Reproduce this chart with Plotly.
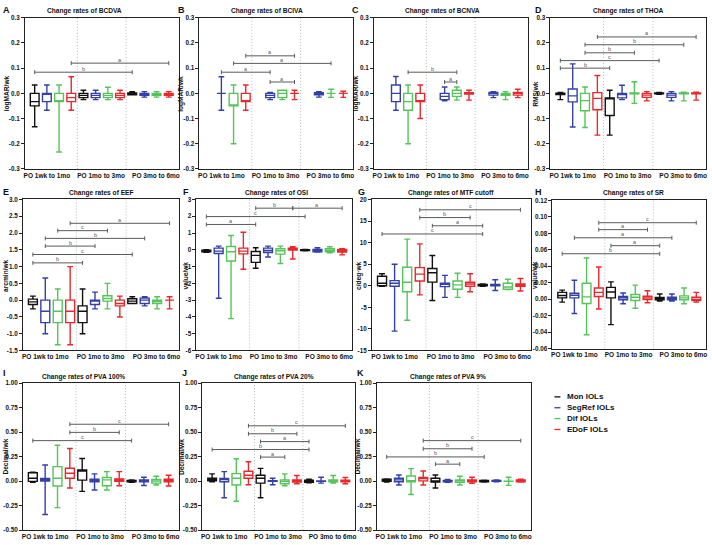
import plotly.graph_objects as go

W, H = 712, 545
FONT = "Liberation Sans, Arial, sans-serif"
FONT_W = "Liberation Sans, Arial, sans-serif"

group_labels = ["PO 1wk to 1mo", "PO 1mo to 3mo", "PO 3mo to 6mo"]
series_names = ["Mon IOLs", "SegRef IOLs", "Dif IOLs", "EDoF IOLs"]
series_colors = ["#111111", "#3440a8", "#55c45a", "#e8282d"]

# each series: per group (upper whisker, q3, median, q1, lower whisker)
BCDVA_Mon = [(0.033, 0.0, -0.033, -0.05, -0.133), (0.012, 0.0, -0.008, -0.017, -0.025), (0.007, 0.002, -0.002, -0.006, -0.006)]
BCDVA_SegRef = [(0.033, 0.0, 0.0, -0.033, -0.067), (0.012, 0.0, -0.008, -0.017, -0.025), (0.007, 0.0, -0.004, -0.008, -0.015)]
BCDVA_Dif = [(0.033, 0.0, -0.033, -0.033, -0.233), (0.024, 0.0, -0.008, -0.017, -0.025), (0.007, 0.0, -0.004, -0.008, -0.015)]
BCDVA_EDoF = [(0.066, 0.0, -0.017, -0.033, -0.067), (0.012, 0.0, -0.008, -0.017, -0.025), (0.007, 0.0, -0.004, -0.008, -0.015)]
BCDVA_sig = [(3, 11, 0.12, "a"), (0, 8, 0.084, "b")]

BCIVA_Mon = None
BCIVA_SegRef = [(0.066, 0.0, 0.0, 0.0, -0.067), (0.004, 0.0, -0.008, -0.017, -0.025), (0.007, 0.003, -0.003, -0.006, -0.015)]
BCIVA_Dif = [(0.033, 0.0, -0.05, -0.05, -0.2), (0.012, 0.012, 0.0, -0.017, -0.025), (0.016, 0.0, 0.0, 0.0, -0.016)]
BCIVA_EDoF = [(0.033, 0.0, -0.033, -0.033, -0.067), (0.012, 0.0, 0.0, 0.0, -0.025), (0.008, 0.0, 0.0, 0.0, -0.016)]
BCIVA_sig = [(3, 7, 0.149, "a"), (2, 10, 0.119, "a"), (1, 5, 0.084, "a"), (5, 7, 0.045, "a")]

BCNVA_Mon = None
BCNVA_SegRef = [(0.067, 0.033, 0.0, -0.033, -0.067), (0.025, 0.0, -0.012, -0.025, -0.03), (0.007, 0.004, 0.0, -0.007, -0.017)]
BCNVA_Dif = [(0.033, 0.0, -0.033, -0.067, -0.2), (0.025, 0.012, 0.0, -0.012, -0.027), (0.007, 0.0, -0.004, -0.008, -0.025)]
BCNVA_EDoF = [(0.033, 0.0, -0.033, -0.033, -0.1), (0.012, 0.003, 0.0, -0.003, -0.027), (0.016, 0.004, 0.0, -0.007, -0.017)]
BCNVA_sig = [(2, 6, 0.084, "b"), (5, 6, 0.045, "a")]

THOA_Mon = [(0.004, 0.001, -0.002, -0.005, -0.025), (0.012, -0.018, -0.02, -0.088, -0.166), (0.004, 0.002, 0.0, -0.002, -0.004)]
THOA_SegRef = [(0.117, 0.017, -0.01, -0.034, -0.134), (0.032, 0.0, -0.005, -0.018, -0.025), (0.007, 0.0, -0.007, -0.016, -0.03)]
THOA_Dif = [(0.025, 0.0, -0.029, -0.069, -0.136), (0.046, 0.002, 0.0, -0.002, -0.04), (0.005, 0.002, 0.0, -0.002, -0.03)]
THOA_EDoF = [(0.071, 0.003, -0.02, -0.065, -0.166), (0.007, 0.0, -0.007, -0.016, -0.03), (0.005, 0.002, 0.0, -0.002, -0.027)]
THOA_sig = [(3, 11, 0.224, "a"), (2, 10, 0.193, "b"), (2, 6, 0.161, "b"), (0, 8, 0.13, "c"), (0, 4, 0.1, "b")]

EEF_Mon = [(0.12, 0.03, -0.05, -0.13, -0.26), (0.33, -0.17, -0.33, -0.67, -1.0), (0.1, 0.04, -0.03, -0.1, -0.1)]
EEF_SegRef = [(0.66, 0.0, -0.33, -0.67, -1.0), (0.24, 0.0, -0.03, -0.13, -0.26), (0.1, 0.06, 0.0, -0.1, -0.17)]
EEF_Dif = [(0.33, 0.0, -0.33, -0.67, -1.33), (0.5, 0.13, 0.05, -0.03, -0.26), (0.1, 0.0, -0.04, -0.1, -0.26)]
EEF_EDoF = [(1.0, 0.0, -0.33, -0.67, -1.33), (0.12, 0.0, -0.1, -0.17, -0.5), (0.1, 0.0, 0.0, 0.0, -0.26)]
EEF_sig = [(3, 11, 2.29, "a"), (2, 6, 2.07, "c"), (1, 9, 1.84, "b"), (1, 5, 1.61, "b"), (0, 8, 1.36, "c"), (0, 4, 1.11, "b")]

OSI_Mon = [(0.0, -0.03, -0.08, -0.12, -0.15), (0.12, -0.1, -0.33, -0.75, -1.1), (0.02, 0.0, -0.02, -0.04, -0.06)]
OSI_SegRef = [(0.22, 0.1, -0.08, -0.22, -2.89), (0.22, 0.1, -0.04, -0.16, -0.43), (0.12, 0.02, -0.06, -0.12, -0.14)]
OSI_Dif = [(0.85, 0.2, -0.12, -0.67, -4.1), (0.22, 0.06, -0.06, -0.26, -0.82), (0.18, 0.06, -0.04, -0.12, -0.18)]
OSI_EDoF = [(1.05, 0.1, -0.08, -0.24, -1.16), (0.18, 0.1, 0.04, -0.02, -0.55), (0.06, 0.02, -0.06, -0.14, -0.3)]
OSI_sig = [(4, 7, 2.48, "b"), (7, 11, 2.48, "a"), (0, 8, 1.98, "c"), (0, 4, 1.51, "a")]

MTF_Mon = [(2.8, 2.2, 0.6, 0.0, -0.1), (7.0, 4.0, 3.0, 0.85, -3.4), (0.4, 0.3, 0.15, 0.0, -0.1)]
MTF_SegRef = [(5.0, 1.2, 0.6, -0.1, -10.5), (2.4, 0.6, 0.4, -0.2, -2.7), (1.4, 0.3, 0.15, 0.0, -1.1)]
MTF_Dif = [(10.8, 4.3, 0.8, -1.4, -8.0), (2.9, 1.1, 0.2, -0.8, -2.7), (1.5, 0.6, -0.3, -0.8, -0.9)]
MTF_EDoF = [(9.7, 4.2, 2.7, 1.1, -2.1), (2.8, 0.8, 0.4, -0.1, -1.4), (1.7, 0.4, 0.15, -0.1, -1.2)]
MTF_sig = [(3, 11, 17.6, "c"), (3, 7, 15.8, "b"), (4, 8, 13.9, "a"), (0, 8, 12.0, "c")]

SR_Mon = [(0.011, 0.0083, 0.0044, 0.0016, -0.0036), (0.021, 0.0143, 0.0087, 0.0016, -0.031), (0.0063, 0.002, 0.0008, -0.0008, -0.0024)]
SR_SegRef = [(0.023, 0.0071, 0.0048, 0.0016, -0.0175), (0.0075, 0.0032, 0.0016, -0.0008, -0.0056), (0.0063, 0.0024, 0.0012, -0.0008, -0.0024)]
SR_Dif = [(0.05, 0.0194, 0.0028, -0.0052, -0.0433), (0.017, 0.0056, 0.0024, -0.0016, -0.011), (0.0135, 0.004, 0.0016, -0.0008, -0.0056)]
SR_EDoF = [(0.039, 0.0135, 0.0083, 0.0032, -0.0119), (0.0103, 0.0036, 0.0016, -0.0004, -0.0044), (0.0083, 0.0024, -0.0004, -0.0016, -0.0036)]
SR_sig = [(3, 11, 0.0929, "c"), (3, 7, 0.0845, "a"), (1, 9, 0.0746, "a"), (4, 8, 0.065, "a"), (0, 8, 0.0552, "b")]

PVA100_Mon = [(0.09, 0.085, 0.03, -0.003, -0.013), (0.23, 0.114, 0.107, 0.01, -0.104), (0.013, 0.007, 0.0, -0.007, -0.013)]
PVA100_SegRef = [(0.165, 0.027, 0.013, 0.0, -0.34), (0.074, 0.02, 0.007, -0.007, -0.09), (0.04, 0.013, 0.003, -0.007, -0.044)]
PVA100_Dif = [(0.366, 0.148, 0.03, -0.05, -0.27), (0.097, 0.037, 0.013, -0.047, -0.09), (0.05, 0.017, 0.0, -0.02, -0.04)]
PVA100_EDoF = [(0.332, 0.131, 0.08, 0.03, -0.07), (0.097, 0.023, 0.01, -0.003, -0.047), (0.06, 0.02, 0.007, -0.007, -0.05)]
PVA100_sig = [(3, 11, 0.58, "c"), (3, 7, 0.497, "b"), (0, 8, 0.413, "c")]

PVA20_Mon = [(0.074, 0.03, 0.017, 0.003, -0.007), (0.13, 0.06, 0.03, -0.02, -0.17), (0.02, 0.01, 0.0, -0.013, -0.017)]
PVA20_SegRef = [(0.097, 0.027, 0.017, -0.007, -0.17), (0.03, 0.004, 0.0, -0.002, -0.037), (0.04, 0.003, 0.0, -0.003, -0.02)]
PVA20_Dif = [(0.228, 0.077, 0.03, -0.04, -0.205), (0.074, 0.013, -0.003, -0.027, -0.047), (0.057, 0.013, 0.003, -0.007, -0.02)]
PVA20_EDoF = [(0.198, 0.1, 0.06, 0.03, -0.037), (0.057, 0.013, 0.003, -0.01, -0.027), (0.037, 0.01, 0.003, -0.007, -0.027)]
PVA20_sig = [(3, 11, 0.564, "c"), (3, 7, 0.483, "b"), (4, 8, 0.403, "a"), (0, 8, 0.322, "b"), (4, 6, 0.245, "a")]

PVA9_Mon = [(0.023, 0.02, 0.01, -0.003, -0.01), (0.063, 0.03, 0.003, -0.01, -0.07), (0.01, 0.007, 0.0, -0.007, -0.01)]
PVA9_SegRef = [(0.063, 0.03, 0.013, -0.007, -0.04), (0.017, 0.007, 0.003, -0.007, -0.013), (0.013, 0.007, 0.003, -0.003, -0.007)]
PVA9_Dif = [(0.127, 0.053, 0.0, -0.007, -0.137), (0.05, 0.013, 0.007, -0.013, -0.04), (0.04, 0.0, 0.0, -0.003, -0.043)]
PVA9_EDoF = [(0.103, 0.037, 0.027, 0.003, -0.04), (0.04, 0.013, 0.003, -0.007, -0.023), (0.02, 0.013, 0.003, -0.007, -0.01)]
PVA9_sig = [(3, 11, 0.413, "c"), (3, 7, 0.33, "b"), (0, 8, 0.247, "b"), (4, 6, 0.173, "a")]

# y tick values and labels
VA_yticks = [-0.3, -0.2, -0.1, 0.0, 0.1, 0.2, 0.3]
VA_ylabels = ["-0.3", "-0.2", "-0.1", "0.0", "0.1", "0.2", "0.3"]
EEF_yticks = [-1.5, -1.0, -0.5, 0.0, 0.5, 1.0, 1.5, 2.0, 2.5, 3.0]
EEF_ylabels = ["-1.5", "-1.0", "-0.5", "0.0", "0.5", "1.0", "1.5", "2.0", "2.5", "3.0"]
OSI_yticks = [-6, -5, -4, -3, -2, -1, 0, 1, 2, 3]
OSI_ylabels = ["-6", "-5", "-4", "-3", "-2", "-1", "0", "1", "2", "3"]
MTF_yticks = [-15, -10, -5, 0, 5, 10, 15, 20]
MTF_ylabels = ["-15", "-10", "-5", "0", "5", "10", "15", "20"]
SR_yticks = [-0.06, -0.04, -0.02, 0.0, 0.02, 0.04, 0.06, 0.08, 0.10, 0.12]
SR_ylabels = ["-0.06", "-0.04", "-0.02", "0.00", "0.02", "0.04", "0.06", "0.08", "0.10", "0.12"]
PVA_yticks = [-0.5, -0.25, 0.0, 0.25, 0.5, 0.75, 1.0]
PVA_ylabels = ["-0.50", "-0.25", "0.00", "0.25", "0.50", "0.75", "1.00"]

panels = [
    ("A", "Change rates of BCDVA", "logMAR/wk", [BCDVA_Mon, BCDVA_SegRef, BCDVA_Dif, BCDVA_EDoF], BCDVA_sig, VA_yticks, VA_ylabels),
    ("B", "Change rates of BCIVA", "logMAR/wk", [BCIVA_Mon, BCIVA_SegRef, BCIVA_Dif, BCIVA_EDoF], BCIVA_sig, VA_yticks, VA_ylabels),
    ("C", "Change rates of BCNVA", "logMAR/wk", [BCNVA_Mon, BCNVA_SegRef, BCNVA_Dif, BCNVA_EDoF], BCNVA_sig, VA_yticks, VA_ylabels),
    ("D", "Change rates of THOA", "RMS/wk", [THOA_Mon, THOA_SegRef, THOA_Dif, THOA_EDoF], THOA_sig, VA_yticks, VA_ylabels),
    ("E", "Change rates of EEF", "arcmin/wk", [EEF_Mon, EEF_SegRef, EEF_Dif, EEF_EDoF], EEF_sig, EEF_yticks, EEF_ylabels),
    ("F", "Change rates of OSI", "value/wk", [OSI_Mon, OSI_SegRef, OSI_Dif, OSI_EDoF], OSI_sig, OSI_yticks, OSI_ylabels),
    ("G", "Change rates of MTF cutoff", "c/deg·wk", [MTF_Mon, MTF_SegRef, MTF_Dif, MTF_EDoF], MTF_sig, MTF_yticks, MTF_ylabels),
    ("H", "Change rates of SR", "value/wk", [SR_Mon, SR_SegRef, SR_Dif, SR_EDoF], SR_sig, SR_yticks, SR_ylabels),
    ("I", "Change rates of PVA 100%", "Decimal/wk", [PVA100_Mon, PVA100_SegRef, PVA100_Dif, PVA100_EDoF], PVA100_sig, PVA_yticks, PVA_ylabels),
    ("J", "Change rates of PVA 20%", "Decimal/wk", [PVA20_Mon, PVA20_SegRef, PVA20_Dif, PVA20_EDoF], PVA20_sig, PVA_yticks, PVA_ylabels),
    ("K", "Change rates of PVA 9%", "Decimal/wk", [PVA9_Mon, PVA9_SegRef, PVA9_Dif, PVA9_EDoF], PVA9_sig, PVA_yticks, PVA_ylabels),
]

# layout in pixels: plot area (left, right, top, bottom), title centre x, y-title x, letter x
geom = {
    "A": (24, 178, 14, 167, 84, 6, 1),
    "B": (199, 353, 14, 167, 267, 181, 176),
    "C": (374, 528, 14, 167, 443, 356, 351),
    "D": (551, 707, 14, 167, 629, 536, 534),
    "E": (22, 179, 198, 351, 101, 5, 1),
    "F": (196, 352, 198, 351, 276, 185, 182),
    "G": (372, 531, 198, 351, 451, 359, 357),
    "H": (553, 707, 199, 349, 634, 535, 535),
    "I": (22, 178, 384, 533, 83, 5, 1),
    "J": (202, 355, 384, 533, 274, 181, 181),
    "K": (377, 531, 384, 533, 448, 358, 356),
}
row_title_y = {14: 7, 198: 191, 199: 191, 384: 378}
row_letter_top = {14: 0, 198: 184, 199: 184, 384: 368}

def px(xp):
    return xp / W

def py(yp):
    return 1 - yp / H

fig = go.Figure()
layout = dict(width=W, height=H, margin=dict(l=0, r=0, t=0, b=0), paper_bgcolor="white",
              plot_bgcolor="white", showlegend=False, boxmode="overlay",
              font=dict(family=FONT, color="#111111"))
shapes = []
annotations = []
AXC = "#222222"
SIGC = "#5a5a5a"

for n, (key, title, ytitle, series, sig, yt, yl) in enumerate(panels, start=1):
    l, r, t, b, tx, ytx, lx = geom[key]
    xa = "x" if n == 1 else f"x{n}"
    ya = "y" if n == 1 else f"y{n}"
    layout["xaxis" if n == 1 else f"xaxis{n}"] = dict(
        domain=[px(l), px(r)], range=[-0.8, 11.8], anchor=ya,
        tickvals=[1.0, 5.45, 9.95], ticktext=group_labels, ticks="", tickangle=0,
        tickfont=dict(family=FONT, size=6.5, weight="bold"),
        showline=True, mirror=True, linecolor=AXC, linewidth=1,
        showgrid=False, zeroline=False, fixedrange=True)
    layout["yaxis" if n == 1 else f"yaxis{n}"] = dict(
        domain=[py(b), py(t)], range=[yt[0], yt[-1]], anchor=xa,
        tickvals=yt, ticktext=yl, ticks="outside", ticklen=3, tickwidth=1, tickcolor=AXC,
        tickfont=dict(family=FONT, size=6.3, weight="bold"),
        showline=True, mirror=True, linecolor=AXC, linewidth=1,
        showgrid=False, zeroline=False, fixedrange=True)
    for si, s in enumerate(series):
        if s is None:
            continue
        xs = [4 * g + si for g in range(3)]
        fig.add_trace(go.Box(
            x=xs, upperfence=[v[0] for v in s], q3=[v[1] for v in s], median=[v[2] for v in s],
            q1=[v[3] for v in s], lowerfence=[v[4] for v in s],
            xaxis=xa, yaxis=ya, width=0.72, whiskerwidth=0.65, boxpoints=False,
            line=dict(color=series_colors[si], width=1.4), fillcolor="rgba(255,255,255,0)",
            name=series_names[si], hoverinfo="skip"))
    for sx in (3.5, 7.5):
        shapes.append(dict(type="line", xref=xa, yref=f"{ya} domain", x0=sx, x1=sx, y0=0, y1=1,
                           line=dict(color="#b8b8b8", width=1, dash="1px,2px"), layer="below"))
    for (s0, s1, yv, lab) in sig:
        shapes.append(dict(type="line", xref=xa, yref=ya, x0=s0, x1=s1, y0=yv, y1=yv,
                           line=dict(color=SIGC, width=1)))
        for xe in (s0, s1):
            shapes.append(dict(type="line", xref=xa, yref=ya, ysizemode="pixel", yanchor=yv,
                               x0=xe, x1=xe, y0=-2, y1=2, line=dict(color=SIGC, width=1)))
        annotations.append(dict(x=(s0 + s1) / 2, y=yv, xref=xa, yref=ya, text=lab, showarrow=False,
                                yshift=3.5, font=dict(family=FONT, size=5.5, color=SIGC)))
    annotations.append(dict(x=px(tx), y=py(row_title_y[t]), xref="paper", yref="paper", text=title,
                            showarrow=False, xanchor="center", yanchor="middle",
                            font=dict(family=FONT, size=6.6, weight="bold", color="#111111")))
    annotations.append(dict(x=px(ytx), y=py((t + b) / 2), xref="paper", yref="paper", text=ytitle,
                            showarrow=False, textangle=-90, xanchor="center", yanchor="middle",
                            font=dict(family=FONT, size=6.6, weight="bold", color="#111111")))
    annotations.append(dict(x=px(lx), y=py(row_letter_top[t]), xref="paper", yref="paper", text=key,
                            showarrow=False, xanchor="left", yanchor="top", borderpad=0,
                            font=dict(family=FONT_W, size=9, weight="bold", color="#111111")))

# legend
leg_y = [398, 409, 420, 431]
for i, name in enumerate(series_names):
    shapes.append(dict(type="line", xref="paper", yref="paper", x0=px(555), x1=px(561),
                       y0=py(leg_y[i]), y1=py(leg_y[i]), line=dict(color=series_colors[i], width=1.3)))
    annotations.append(dict(x=px(566), y=py(leg_y[i]), xref="paper", yref="paper", text=name,
                            showarrow=False, xanchor="left", yanchor="middle",
                            font=dict(family=FONT_W, size=8, weight="bold", color="#111111")))

layout["shapes"] = shapes
layout["annotations"] = annotations
fig.update_layout(**layout)

pin_script = (
    "document.documentElement.style.margin='0';document.body.style.margin='0';"
    "document.body.style.padding='0';document.body.style.overflow='hidden';"
    "var gd=document.getElementById('{plot_id}');gd.style.position='fixed';"
    "gd.style.left='0px';gd.style.top='0px';"
)
fig.write_html("out.html", post_script=pin_script, config={"displayModeBar": False})
